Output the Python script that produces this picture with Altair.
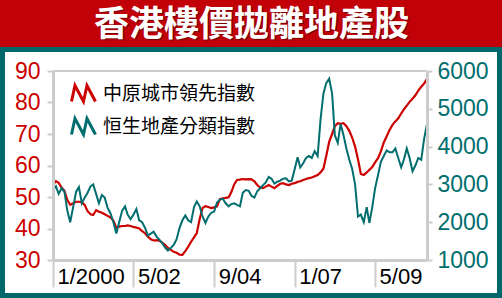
import altair as alt
import pandas as pd

# ---------------- data ----------------
title_text = "香港樓價拋離地產股"
red_name = "中原城市領先指數"
teal_name = "恒生地產分類指數"
start_month = "2000-01-01"

red_values = [
    54, 55, 54.5, 53, 52, 49, 47.5, 48, 48.5, 48.5,
    48.3, 47.5, 45.5, 44.5, 44.3, 45.8, 45.3, 45, 44.5, 44,
    43.5, 42.5, 40.3, 40.6, 40.8, 40.8, 41, 40.8, 40.5, 40.3,
    40, 39.2, 38.5, 37.4, 36.6, 36.2, 36.3, 36.1, 35.5, 34.8,
    33.8, 33.2, 32.6, 32.3, 31.7, 31.6, 32.8, 34.2, 35.8, 37.2,
    38.5, 43, 46.5, 47.1, 46.8, 46.5, 46.7, 47, 49.3, 49.6,
    49.7, 49.9, 51.5, 54, 55.4, 55.5, 55.7, 55.6, 55.7, 55.6,
    55, 53.8, 53, 52.8, 53.3, 53.8, 53.3, 52.8, 53.5, 54.2,
    54.4, 54, 53.8, 54.2, 54.4, 54.8, 55, 55.4, 55.7, 56,
    56.2, 56.6, 57, 57.8, 59, 63, 67.5, 70, 72.5, 73.4,
    73.2, 73.4, 72.5, 71, 68.8, 66, 62, 57.3, 57, 57.8,
    58.6, 59.5, 61, 62.3, 64.5, 67.3, 69.3, 71.3, 72.9, 74,
    75, 76.5, 77.8, 79, 80.2, 81.2, 82.3, 83.8, 85, 86, 87.5,
]

teal_values = [
    2850, 2950, 2750, 2900, 2800, 2300, 2000, 2400, 2800, 2930,
    2500, 2650, 2780, 2950, 3000, 2750, 2500, 2720, 2650, 2380,
    2230, 2000, 1700, 2000, 2300, 2420, 2200, 2080, 2200, 2350,
    2050, 2000, 1850, 1650, 1700, 1750, 1620, 1530, 1450, 1330,
    1250, 1320, 1400, 1550, 1850, 2050, 2180, 2050, 2000, 2400,
    2550, 2420, 2150, 1980, 2150, 2250, 2280, 2520, 2600, 2620,
    2500, 2420, 2480, 2500, 2460, 2420, 2780, 2850, 2830, 2700,
    2650, 2820, 2900, 2980, 3050, 3200, 3150, 3020, 3070, 3100,
    3150, 3160, 3080, 3100, 3400, 3720, 3450, 3560, 3700, 3750,
    3700, 3880, 3750, 4700, 5400, 5680, 5800, 5400, 4300, 4100,
    4600, 4300, 3950, 3650, 3400, 3000, 2150, 2200, 2000, 2400,
    1980, 2400, 2900, 3250, 3600, 3750, 3900, 3850, 3850, 3950,
    3700, 3450, 3650, 3950, 3700, 3350, 3500, 3700, 3650, 4200, 4600,
]

x_tick_months = ["2000-01", "2002-05", "2004-09", "2007-01", "2009-05"]
x_tick_labels = ["1/2000", "5/02", "9/04", "1/07", "5/09"]
left_ticks = [30, 40, 50, 60, 70, 80, 90]
right_ticks = [1000, 2000, 3000, 4000, 5000, 6000]

# ---------------- style ----------------
RED = "#cc0000"
TEAL = "#006e6e"
FRAME = "#00676a"
TITLE_RED = "#c20008"
GRAY = "#cccccc"
NUM_FONT = "Liberation Sans"
CJK_FONT = "Noto Sans CJK TC"
TITLE_FONT = "DejaVu Sans, Noto Sans CJK TC"

W, H = 374, 189
PAD = {"left": 53, "top": 71, "right": 75, "bottom": 38}

dates = pd.date_range(start_month, periods=len(red_values), freq="MS")
red_df = pd.DataFrame({"date": dates, "value": red_values, "series": red_name})
teal_df = pd.DataFrame({"date": dates, "value": teal_values, "series": teal_name})

# label expression from the tick label lists
label_expr = "''"
for m, lab in reversed(list(zip(x_tick_months, x_tick_labels))):
    label_expr = f"timeFormat(datum.value, '%Y-%m') == '{m}' ? '{lab}' : ({label_expr})"

tick_values = [alt.DateTime(year=int(m[:4]), month=int(m[5:]), date=1) for m in x_tick_months]

x_enc = alt.X(
    "date:T",
    title=None,
    scale=alt.Scale(domain=[alt.DateTime(year=2000, month=1, date=1),
                            alt.DateTime(year=2010, month=11, date=1)]),
    axis=alt.Axis(
        values=tick_values, labelExpr=label_expr, grid=False,
        domainColor=GRAY, domainWidth=3, tickColor=GRAY, tickWidth=2, tickSize=27,
        labelAlign="left", labelBaseline="top", labelPadding=-21, labelOffset=4,
        labelFlush=False, labelFont=NUM_FONT, labelFontSize=22, labelColor="black",
        labelOverlap=False, zindex=1,
    ),
)

color_enc = alt.Color(
    "series:N",
    scale=alt.Scale(domain=[red_name, teal_name], range=[RED, TEAL]),
    legend=alt.Legend(
        title=None, orient="none", legendX=17, legendY=9, padding=0,
        symbolType="M -1 0.67 L -0.71 -0.67 L 0 0.67 L 0.29 -0.67 L 1 0.67",
        symbolSize=576, symbolStrokeWidth=3, symbolFillColor="transparent",
        labelFont=CJK_FONT, labelFontSize=19, labelColor="black",
        labelOffset=6, rowPadding=4, labelLimit=400, zindex=1,
    ),
)

red_line = alt.Chart(red_df).mark_line(strokeWidth=2.2).encode(
    x=x_enc,
    y=alt.Y("value:Q", title=None,
            scale=alt.Scale(domain=[30, 90], nice=False, zero=False),
            axis=alt.Axis(orient="left", values=left_ticks, grid=False, format="d",
                          domainColor=GRAY, domainWidth=3, tickColor=GRAY, tickWidth=2,
                          tickSize=6, labelPadding=7, labelFont=NUM_FONT, labelFontSize=23,
                          labelColor=RED, labelOverlap=False, zindex=1)),
    color=color_enc,
)

teal_line = alt.Chart(teal_df).mark_line(strokeWidth=2).encode(
    x=x_enc,
    y=alt.Y("value:Q", title=None,
            scale=alt.Scale(domain=[1000, 6000], nice=False, zero=False),
            axis=alt.Axis(orient="right", values=right_ticks, grid=False, format="d",
                          domainColor=GRAY, domainWidth=3, tickColor=GRAY, tickWidth=2,
                          tickSize=5, labelPadding=5, labelFont=NUM_FONT, labelFontSize=23,
                          labelColor=TEAL, labelOverlap=False, zindex=1)),
    color=color_enc,
)

dummy = pd.DataFrame({"k": [0]})
base = alt.Chart(dummy)

white_panel = base.mark_rect(color="white").encode(
    x=alt.value(-48), x2=alt.value(444), y=alt.value(-19), y2=alt.value(222))
title_bar = base.mark_rect(color=TITLE_RED).encode(
    x=alt.value(-53), x2=alt.value(449), y=alt.value(-71), y2=alt.value(-24))
title_shadow = base.mark_text(
    text=title_text, font=TITLE_FONT, fontSize=35, fontWeight="bold",
    color="#7a0000", align="center", baseline="alphabetic").encode(
    x=alt.value(199.8), y=alt.value(-34))
title_main = base.mark_text(
    text=title_text, font=TITLE_FONT, fontSize=35, fontWeight="bold",
    color="white", align="center", baseline="alphabetic").encode(
    x=alt.value(198.5), y=alt.value(-35.3))
top_rule = base.mark_rule(color=GRAY, strokeWidth=2).encode(
    x=alt.value(0), x2=alt.value(W), y=alt.value(0))

chart = alt.layer(
    white_panel, title_bar, title_shadow, title_main, top_rule, red_line, teal_line
).resolve_scale(y="independent").properties(
    width=W, height=H, padding=PAD,
    autosize=alt.AutoSizeParams(type="none"),
    background=FRAME,
).configure_view(strokeWidth=0)

chart.save("out.html", embed_options={"renderer": "svg", "actions": False})
